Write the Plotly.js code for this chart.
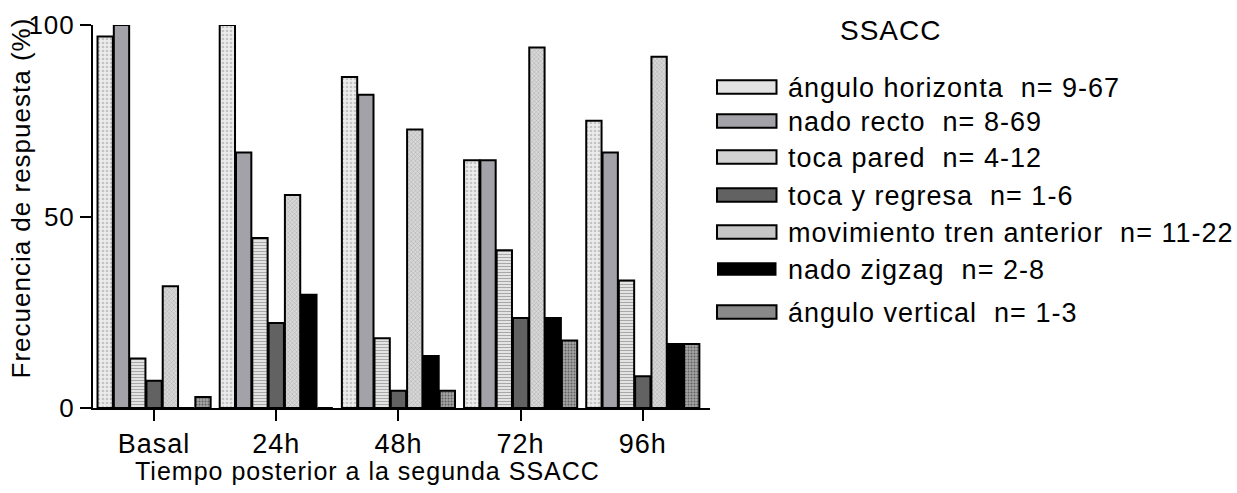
<!DOCTYPE html>
<html>
<head>
<meta charset="utf-8">
<script src="https://cdn.plot.ly/plotly-3.0.1.min.js"></script>
<style>
  html, body { margin: 0; padding: 0; background: #fff; }
  #chart { width: 1237px; height: 493px; }
  .main-svg text { letter-spacing: 1px; }
</style>
</head>
<body>
<div id="chart"></div>
<script>
// ---- data ----
const categories = ["Basal", "24h", "48h", "72h", "96h"];
const seriesNames = [
  "ángulo horizonta  n= 9-67",
  "nado recto  n= 8-69",
  "toca pared  n= 4-12",
  "toca y regresa  n= 1-6",
  "movimiento tren anterior  n= 11-22",
  "nado zigzag  n= 2-8",
  "ángulo vertical  n= 1-3"
];
const anguloHorizontal = [97.0, 100, 86.4, 64.7, 75.0];
const nadoRecto        = [100, 66.7, 81.8, 64.7, 66.7];
const tocaPared        = [12.9, 44.4, 18.2, 41.2, 33.3];
const tocaYRegresa     = [7.1, 22.2, 4.5, 23.5, 8.3];
const movimientoTren   = [31.8, 55.6, 72.7, 94.1, 91.7];
const nadoZigzag       = [0, 29.6, 13.6, 23.5, 16.7];
const anguloVertical   = [2.9, 0, 4.5, 17.6, 16.7];
const yTickValues = [0, 50, 100];
const legendTitle = "SSACC";
const xTitle = "Tiempo posterior a la segunda SSACC";
const yTitle = "Frecuencia de respuesta (%)";

const seriesValues = [anguloHorizontal, nadoRecto, tocaPared, tocaYRegresa,
                      movimientoTren, nadoZigzag, anguloVertical];

// ---- styles ----
const styles = [
  {color: "#e2e2e2", pattern: {shape: ".", fgcolor: "#c4c4c4", bgcolor: "#ececec", size: 4, solidity: 0.35}},
  {color: "#a2a2a8", pattern: null},
  {color: "#d2d2d2", pattern: {shape: "-", fgcolor: "#a8a8a8", bgcolor: "#f0f0f0", size: 3, solidity: 0.45}},
  {color: "#626262", pattern: null},
  {color: "#c6c6c6", pattern: {shape: "x", fgcolor: "#acacac", bgcolor: "#d8d8d8", size: 3, solidity: 0.3}},
  {color: "#000000", pattern: null},
  {color: "#8a8a8a", pattern: {shape: ".", fgcolor: "#606060", bgcolor: "#a4a4a4", size: 3, solidity: 0.35}}
];

const FONT = "Liberation Sans, Arial, sans-serif";
const FS = 27;

const traces = seriesNames.map((name, i) => {
  const m = {color: styles[i].color, line: {color: "#000", width: 2}};
  if (styles[i].pattern) m.pattern = styles[i].pattern;
  return {type: "bar", name: name, x: categories, y: seriesValues[i], marker: m,
          showlegend: false, hoverinfo: "x+y+name"};
});

// ---- plot-area geometry (pixels) ----
const W = 1237, H = 493;
const L = 93, R = 527, T = 25, B = 85;
const plotW = W - L - R, plotH = H - T - B;
const pxX = px => (px - L) / plotW;
const pxY = py => (H - B - py) / plotH;

// custom legend (wide swatches as in the reference)
const legendRowsY = [87, 121, 157, 195, 232, 269, 312];
const swX0 = 717, swX1 = 776.5, swH = 13.5, textX = 786;
const shapes = [];
const annotations = [];
seriesNames.forEach((name, i) => {
  const yc = legendRowsY[i];
  shapes.push({type: "rect", xref: "paper", yref: "paper",
    x0: pxX(swX0), x1: pxX(swX1), y0: pxY(yc + swH / 2), y1: pxY(yc - swH / 2),
    fillcolor: styles[i].color, line: {color: "#000", width: i === 5 ? 0 : 2}});
  annotations.push({xref: "paper", yref: "paper", x: pxX(textX), y: pxY(yc + 1),
    xanchor: "left", yanchor: "middle", align: "left", showarrow: false, text: name,
    font: {family: FONT, size: FS, color: "#000"}});
});
annotations.push({xref: "paper", yref: "paper", x: pxX(838), y: pxY(31),
  xanchor: "left", yanchor: "middle", align: "left", showarrow: false, text: legendTitle,
  font: {family: FONT, size: 28, color: "#000"}});
// axis titles placed as in the reference
annotations.push({xref: "paper", yref: "paper", x: pxX(21), y: pxY(198),
  xanchor: "center", yanchor: "middle", showarrow: false, text: yTitle, textangle: -90,
  font: {family: FONT, size: 26, color: "#000"}});
annotations.push({xref: "paper", yref: "paper", x: pxX(133), y: pxY(471),
  xanchor: "left", yanchor: "middle", align: "left", showarrow: false, text: xTitle,
  font: {family: FONT, size: 25, color: "#000"}});

const layout = {
  width: W, height: H,
  margin: {l: L, r: R, t: T, b: B, pad: 0},
  paper_bgcolor: "#fff", plot_bgcolor: "#fff",
  barmode: "group", bargap: 0.066, bargroupgap: 0.06,
  showlegend: false,
  font: {family: FONT, size: FS, color: "#000"},
  xaxis: {
    type: "category", range: [-0.5, 4.55],
    showline: true, linecolor: "#000", linewidth: 2,
    ticks: "outside", ticklen: 11, tickwidth: 2, tickcolor: "#000",
    showgrid: false, zeroline: false,
    tickfont: {family: FONT, size: FS, color: "#000"}
  },
  yaxis: {
    range: [0, 100], tickvals: yTickValues, ticktext: yTickValues.map(String),
    showline: true, linecolor: "#000", linewidth: 2,
    ticks: "outside", ticklen: 11, tickwidth: 2, tickcolor: "#000",
    showgrid: false, zeroline: false,
    tickfont: {family: FONT, size: 26, color: "#000"}
  },
  shapes: shapes,
  annotations: annotations
};

Plotly.newPlot("chart", traces, layout, {displayModeBar: false, staticPlot: true});
</script>
</body>
</html>
